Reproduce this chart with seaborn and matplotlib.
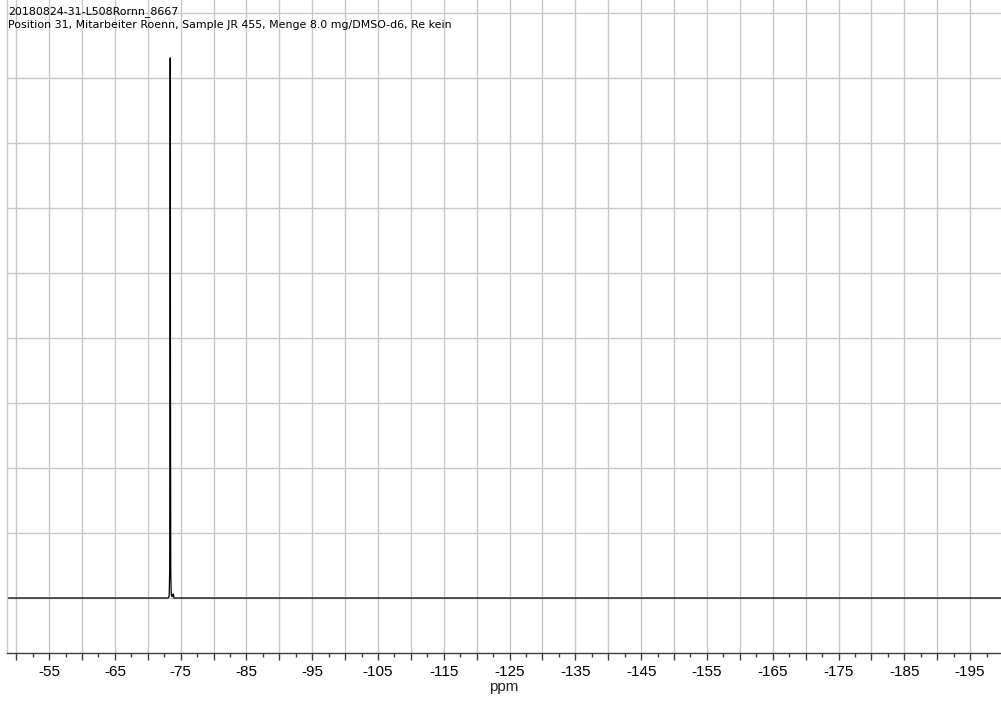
# -*- coding: utf-8 -*-

import pandas as pd
import matplotlib
matplotlib.use('Agg')
import matplotlib.pyplot as plt
from matplotlib.ticker import MultipleLocator, FuncFormatter
import seaborn as sns

# spectrum points (ppm, relative intensity)
ppm = [-48.6, -73.10, -73.25, -73.33, -73.37, -73.41, -73.45, -73.49, -73.57,
       -73.70, -73.82, -73.90, -73.98, -199.7]
intensity = [0.0, 0.0, 0.03, 0.4, 3.5, 8.31, 3.5, 0.4, 0.05,
             0.02, 0.06, 0.06, 0.0, 0.0]

title_line1 = '20180824-31-L508Rornn_8667'
title_line2 = 'Position 31, Mitarbeiter Roenn, Sample JR 455, Menge 8.0 mg/DMSO-d6, Re kein'
x_label = 'ppm'
x_range = (-48.6, -199.7)
y_range = (-0.846, 9.2)
grid_rows = list(range(0, 10))

sns.set_theme(style='white')
plt.rcParams['font.family'] = ['DejaVu Sans']

df = pd.DataFrame({'ppm': ppm, 'intensity': intensity})

fig = plt.figure(figsize=(10.01, 7.01), dpi=100)
ax = fig.add_axes([7 / 1001, 48 / 701, 1 - 7 / 1001, 1 - 48 / 701])

sns.lineplot(data=df, x='ppm', y='intensity', sort=False, estimator=None,
             color='black', linewidth=0.9, ax=ax)

ax.set_xlim(*x_range)
ax.set_ylim(*y_range)

# grid
ax.xaxis.set_major_locator(MultipleLocator(5))
ax.xaxis.set_minor_locator(MultipleLocator(2.5))
ax.set_yticks(grid_rows)
ax.grid(True, which='major', axis='both', color='#c8c8c8', linewidth=1.0)
ax.set_axisbelow(True)


def fmt(v, pos):
	if abs(round(v) - v) < 1e-6 and int(round(v)) % 10 == 5:
		return '%d' % round(v)
	return ''


ax.xaxis.set_major_formatter(FuncFormatter(fmt))
ax.tick_params(axis='x', which='major', length=5, width=1, color='#404040',
               direction='out', pad=3.5, labelsize=11, labelcolor='black', bottom=True)
ax.tick_params(axis='x', which='minor', length=3, width=1, color='#404040',
               direction='out', bottom=True)
ax.tick_params(axis='y', left=False, labelleft=False)
for lbl in ax.get_xticklabels():
	lbl.set_fontfamily(['Liberation Sans', 'DejaVu Sans'])

ax.set_xlabel(x_label, fontsize=11, family=['Liberation Sans', 'DejaVu Sans'], labelpad=0.5)
ax.set_ylabel('')

for side in ['top', 'right']:
	ax.spines[side].set_visible(False)
ax.spines['left'].set_color('#c8c8c8')
ax.spines['left'].set_linewidth(1.0)
ax.spines['bottom'].set_color('#404040')
ax.spines['bottom'].set_linewidth(1.0)

fig.text(8 / 1001, 1 - 6 / 701, title_line1, ha='left', va='top', fontsize=7.9, color='black')
fig.text(8 / 1001, 1 - 20 / 701, title_line2, ha='left', va='top', fontsize=7.9, color='black')

fig.savefig('out.png', dpi=100)
